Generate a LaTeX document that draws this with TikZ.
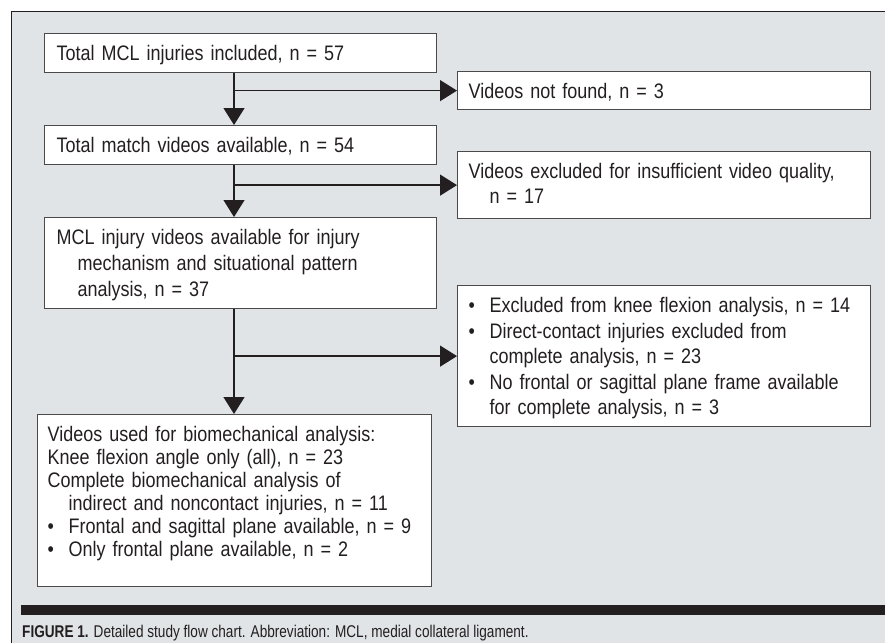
\documentclass[tikz,border=0pt]{standalone}
\usepackage{fontspec}
\setmainfont{Liberation Sans}[FakeStretch=0.857]
\newfontfamily\captionfont{Liberation Sans}[FakeStretch=0.8]
\usetikzlibrary{arrows.meta,positioning}
\definecolor{panelgrey}{HTML}{E1E4E7}
\definecolor{inkblack}{HTML}{231F20}
\definecolor{boxline}{HTML}{4A4A4A}
\newcommand{\bitem}{\makebox[21pt][l]{\textbullet}}
\newcommand{\hang}{\hspace*{21pt}}
\begin{document}
\begin{tikzpicture}[x=1pt, y=-1pt,
  flowbox/.style={draw=boxline, line width=1.2pt, fill=white, anchor=north west,
    align=left, inner xsep=12pt, inner ysep=0pt, text height=27pt,
    font=\fontsize{21}{26}\selectfont, text=inkblack},
  sidebox/.style={flowbox, inner xsep=11pt, text width=391pt},
  link/.style={draw=inkblack, line width=1.3pt},
  flowarrow/.style={link, -{Triangle[length=17pt,width=21pt]}},
]
  \useasboundingbox (0,0) rectangle (885,643);
  % panel
  \fill[panelgrey] (11,11) rectangle (885,643);
  \draw[inkblack, line width=1pt] (11,643) -- (11,11) -- (885,11);

  % main column
  \node[flowbox, text width=368pt, text depth=12pt] (total) at (44,33)
    {Total MCL injuries included, n = 57};
  \node[flowbox, text width=368pt, text depth=12pt] (match) at (44,125)
    {Total match videos available, n = 54};
  \node[flowbox, text width=368pt, text depth=64pt] (mech) at (44,217)
    {MCL injury videos available for injury\\
     \hang mechanism and situational pattern\\
     \hang analysis, n = 37};
  \node[flowbox, inner xsep=10pt, text width=374pt, text depth=145pt,
    font=\fontsize{21}{23}\selectfont] (biomech) at (37,414)
    {Videos used for biomechanical analysis:\\
     Knee flexion angle only (all), n = 23\\
     Complete biomechanical analysis of\\
     \hang indirect and noncontact injuries, n = 11\\
     \bitem Frontal and sagittal plane available, n = 9\\
     \bitem Only frontal plane available, n = 2};

  % exclusions
  \node[sidebox, text depth=11pt] (notfound) at (457,71)
    {Videos not found, n = 3};
  \node[sidebox, text depth=40pt, font=\fontsize{21}{25}\selectfont] (quality) at (457,151)
    {Videos excluded for insufficient video quality,\\
     \hang n = 17};
  \node[sidebox, text depth=114pt, font=\fontsize{21}{25.5}\selectfont] (excluded) at (457,285)
    {\bitem Excluded from knee flexion analysis, n = 14\\
     \bitem Direct-contact injuries excluded from\\
     \hang complete analysis, n = 23\\
     \bitem No frontal or sagittal plane frame available\\
     \hang for complete analysis, n = 3};

  % connectors
  \coordinate (spine) at (234,0);
  \draw[flowarrow] (total.south -| spine) -- (match.north -| spine);
  \draw[flowarrow] (match.south -| spine) -- (mech.north -| spine);
  \draw[flowarrow] (mech.south -| spine) -- (biomech.north -| spine);
  \draw[flowarrow] (spine |- notfound.west) -- (notfound.west);
  \draw[flowarrow] (spine |- quality.west) -- (quality.west);
  \draw[flowarrow] (spine |- excluded.west) -- (excluded.west);

  % caption
  \fill[inkblack] (21,605) rectangle (885,615);
  \node[anchor=base west, inner sep=0pt, font=\captionfont\fontsize{17}{20}\selectfont,
    text=inkblack] (caption) at (22,637)
    {\textbf{FIGURE 1.} Detailed study flow chart. Abbreviation: MCL, medial collateral ligament.};
\end{tikzpicture}
\end{document}
